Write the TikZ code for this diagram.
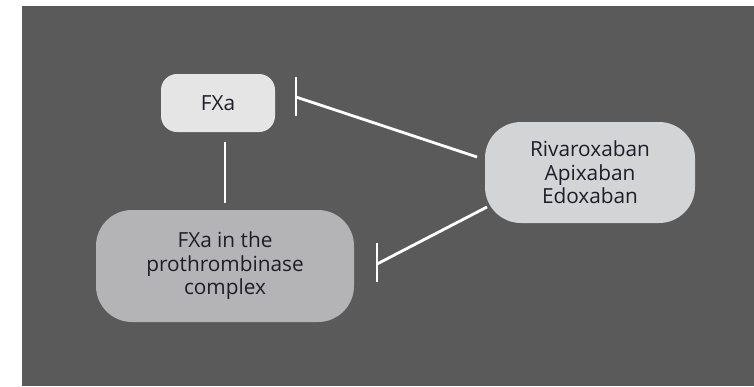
\documentclass[tikz,border=0pt]{standalone}
\usepackage{fontspec}
\setmainfont{Open Sans}
\usetikzlibrary{calc}
\definecolor{panel}{HTML}{5A5A5B}
\definecolor{fxafill}{HTML}{E5E5E5}
\definecolor{cplxfill}{HTML}{B4B4B7}
\definecolor{drugfill}{HTML}{D3D4D6}
\definecolor{txt}{HTML}{1E1E28}
\begin{document}
\begin{tikzpicture}[x=1pt,y=-1pt,
  box/.style={draw=none, align=center, text=txt, font=\fontsize{20.8}{23.5}\selectfont, inner sep=0pt},
  conn/.style={draw=white, line width=2.8pt},
  barline/.style={draw=white, line width=2.8pt}]
\useasboundingbox (0,0) rectangle (754,386);
\fill[white] (0,0) rectangle (754,386);
\fill[panel] (22,6) rectangle (754,386);
\node[box, fill=fxafill, minimum width=114pt, minimum height=58pt, rounded corners=16pt] (fxa) at (218,103) {FXa};
\node[box, fill=cplxfill, minimum width=258pt, minimum height=112pt, rounded corners=36pt] (cplx) at (225,266) {FXa in the\\prothrombinase\\complex};
\node[box, fill=drugfill, minimum width=210pt, minimum height=101pt, rounded corners=36pt] (drug) at (590,172.5) {Rivaroxaban\\Apixaban\\Edoxaban};
\coordinate (v1) at (225,142);
\coordinate (v2) at (225,203);
\coordinate (d1) at (477,157);
\coordinate (b1) at (296,97);
\coordinate (d2) at (487,207);
\coordinate (b2) at (377,264);
\draw[conn] (v1) -- (v2);
\draw[conn] (d1) -- (b1);
\draw[barline] ($(b1)+(0,-20)$) -- ($(b1)+(0,19)$);
\draw[conn] (d2) -- (b2);
\draw[barline] ($(b2)+(0,-21)$) -- ($(b2)+(0,18)$);
\end{tikzpicture}
\end{document}
